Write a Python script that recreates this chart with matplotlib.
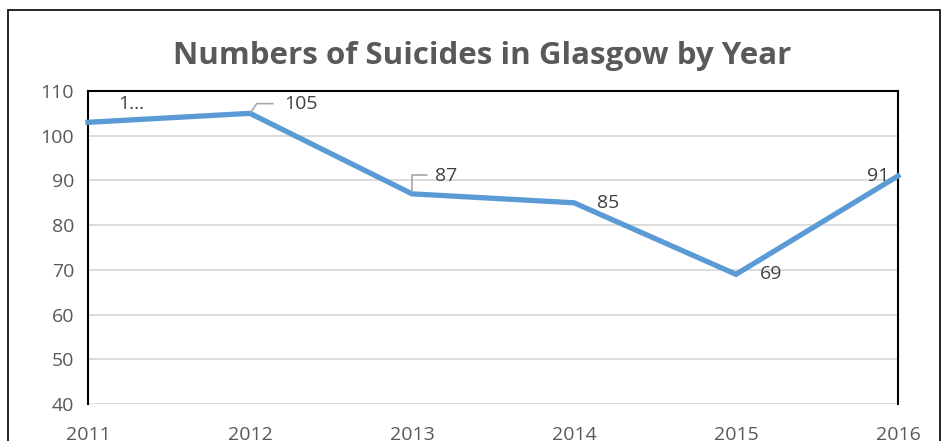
import matplotlib.pyplot as plt
from matplotlib.patches import Rectangle

# data
years = [2011, 2012, 2013, 2014, 2015, 2016]
suicides = [103, 105, 87, 85, 69, 91]
point_labels = ["1...", "105", "87", "85", "69", "91"]
y_ticks = [40, 50, 60, 70, 80, 90, 100, 110]

plt.rcParams["font.family"] = ["Open Sans", "DejaVu Sans"]

fig = plt.figure(figsize=(9.43, 4.41), dpi=100)
ax = fig.add_axes([88 / 943, 1 - 404 / 441, 810 / 943, 313 / 441])

# outer chart frame (bottom runs off the picture)
fig.patches.append(Rectangle((8 / 943, -0.1), 932 / 943, 1.1 - 10 / 441,
                             transform=fig.transFigure, fill=False,
                             edgecolor="black", linewidth=1.2))

ax.plot(years, suicides, color="#5B9BD5", linewidth=3.8, solid_joinstyle="miter",
        zorder=3, clip_on=False)

ax.set_xlim(2011, 2016)
ax.set_ylim(40, 110)
ax.set_yticks(y_ticks)
ax.set_xticks(years)
ax.grid(axis="y", color="#d9d9d9", linewidth=1.3)
ax.set_axisbelow(True)
ax.tick_params(length=0, labelsize=14, labelcolor="#595959")
ax.tick_params(axis="x", pad=16)
ax.tick_params(axis="y", pad=10)
for side in ["left", "top", "right"]:
    ax.spines[side].set_color("black")
    ax.spines[side].set_linewidth(1.5)
ax.spines["bottom"].set_visible(False)

# data labels: offsets in points
offsets = [(31, 13), (37, 7), (24.5, 13), (24.5, 0), (25, 0), (-14.5, 0)]
for x, y, txt, off in zip(years, suicides, point_labels, offsets):
    ax.annotate(txt, (x, y), xytext=off, textcoords="offset points",
                ha="center", va="center", fontsize=14, color="#404040", zorder=4)

# leader lines for 105 and 87
ax.annotate("", (2012, 105), xytext=(16.5, 7), textcoords="offset points",
            arrowprops=dict(arrowstyle="-", color="#a6a6a6", lw=1.2,
                            shrinkA=0, shrinkB=1,
                            connectionstyle="angle,angleA=0,angleB=55,rad=0"))
ax.annotate("", (2013, 87), xytext=(10.8, 13.5), textcoords="offset points",
            arrowprops=dict(arrowstyle="-", color="#a6a6a6", lw=1.2,
                            shrinkA=0, shrinkB=2,
                            connectionstyle="angle,angleA=0,angleB=90,rad=0"))

fig.text(482 / 943, 1 - 56 / 441, "Numbers of Suicides in Glasgow by Year",
         ha="center", va="center", fontsize=22.5, fontweight="bold", color="#595959")

plt.savefig("out.png", dpi=100)
